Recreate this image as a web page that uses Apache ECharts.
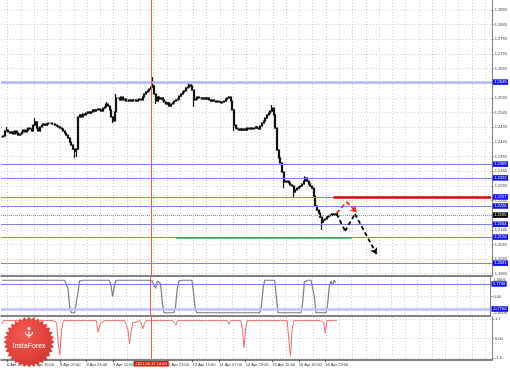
<!DOCTYPE html>
<html><head><meta charset="utf-8">
<script src="https://cdn.jsdelivr.net/npm/echarts@6/dist/echarts.min.js"></script>
<style>html,body{margin:0;padding:0;background:#fff}#c{width:510px;height:370px}</style>
</head><body><div id="c"></div>
<script>
const closes = [
1.2462,1.2465,1.2482,1.2485,1.2479,1.2475,1.2479,1.2472,1.2482,1.2475,
1.2468,1.2472,1.2479,1.2485,1.2479,1.2485,1.2492,1.2489,1.2482,1.2502,
1.2513,1.2492,1.2482,1.2496,1.2502,1.2506,1.2502,1.2506,1.2509,1.2509,
1.2506,1.2506,1.2502,1.2499,1.2496,1.2492,1.2489,1.2482,1.2475,1.2468,
1.2458,1.2444,1.2434,1.2420,1.2414,1.2420,1.2530,1.2537,1.2530,1.2540,
1.2537,1.2543,1.2547,1.2543,1.2547,1.2554,1.2550,1.2554,1.2557,1.2554,
1.2550,1.2560,1.2564,1.2574,1.2567,1.2554,1.2530,1.2516,1.2547,1.2595,
1.2595,1.2588,1.2598,1.2588,1.2591,1.2584,1.2584,1.2588,1.2584,1.2588,
1.2588,1.2584,1.2588,1.2591,1.2588,1.2598,1.2608,1.2615,1.2619,1.2625,
1.2632,1.2636,1.2608,1.2584,1.2598,1.2591,1.2595,1.2588,1.2581,1.2574,
1.2578,1.2567,1.2574,1.2578,1.2584,1.2588,1.2591,1.2601,1.2608,1.2615,
1.2619,1.2629,1.2632,1.2639,1.2636,1.2622,1.2588,1.2591,1.2598,1.2595,
1.2595,1.2591,1.2595,1.2591,1.2595,1.2588,1.2584,1.2588,1.2584,1.2581,
1.2584,1.2581,1.2578,1.2581,1.2584,1.2591,1.2595,1.2598,1.2584,1.2554,
1.2502,1.2492,1.2489,1.2485,1.2489,1.2485,1.2489,1.2485,1.2492,1.2489,
1.2492,1.2489,1.2492,1.2496,1.2492,1.2489,1.2499,1.2509,1.2516,1.2526,
1.2537,1.2543,1.2550,1.2560,1.2537,1.2492,1.2417,1.2390,1.2373,1.2342,
1.2311,1.2308,1.2311,1.2305,1.2298,1.2294,1.2274,1.2281,1.2287,1.2291,
1.2294,1.2301,1.2311,1.2322,1.2311,1.2301,1.2294,1.2287,1.2260,1.2226,
1.2212,1.2202,1.2188,1.2171,1.2178,1.2182,1.2188,1.2192,1.2195,1.2199,
1.2195,1.2199,1.2195];
const spikeHigh = {3:1.2496, 20:1.2526, 63:1.2581, 69:1.2608, 91:1.2666, 113:1.2646, 137:1.2601, 163:1.2571, 183:1.2328};
const spikeLow = {44:1.2390, 45:1.2393, 67:1.2509, 93:1.2574, 116:1.2564, 140:1.2482, 170:1.2287, 176:1.2257, 193:1.2144};

const osc1 = [
1,1,1,1,1,1,1,1,1,1, 1,1,1,1,1,1,1,1,1,1, 1,1,1,1,1,1,1,1,1,1, 1,1,1,1,1,1,1,1,1,1,
0.5,-0.6,-1,-1,-1,-1,0.2,0.95,
1,1,1,1,1,1,1,1,1,1,1,1,1,1,1,1,1,1,
0.7,0.0,0.6,
1,1,1,1,1,1,1,1,1,1,1,1,1,1,1,1,1,1,1,1,1,1,
0.95,0.85,0.5,0.95,1,0.8,-0.3,
-1,-1,-1,-1,-1,-1,-1,
-0.7,0.4,0.95,
1,1,1,1,0.9,1,1,1,
0.2,-0.8,
-1,-1,-1,-1,-1,-1,-1,-1,-1,-1,-1,-1,-1,-1,-1,-1,-1,-1,-1,-1,-1,-1,-1,-1,-1,-1,-1,-1,-1,-1,-1,-1,-1,-1,-1,-1,-1,-1,-1,
-0.6,0.5,
1,1,1,1,1,1,1,
0.0,
-1,-1,-1,-1,-1,-1,-1,-1,-1,-1,-1,-1,-1,-1,-1,
-0.3,0.9,
1,1,1,1,1,
0.0,
-1,-1,-1,-1,-1,-1,-1,
-0.5,0.6,0.95,0.7,1,0.85];

const osc2 = [
0.8,
1,1,1,1,1,1,1,1,1,1,1,1,1,1,1,1,1,1,1,1,1,1,1,1,1,1,1,1,1,1,1,1,
0.9,-0.3,-0.9,0.4,
1,1,1,1,1,1,1,1,1,1,1,1,1,1,1,1,1,1,1,1,1,
0.35,0.7,0.9,
1,1,1,1,1,1,1,1,1,1,1,1,1,1,1,
0.5,-0.3,0.4,0.9,0.85,0.9,
1,1,
0.85,0.55,0.8,
1,1,1,1,1,1,1,1,1,1,1,1,1,1,1,1,1,1,
0.75,
1,1,1,1,1,1,1,1,1,1,1,1,1,1,1,1,1,1,1,1,1,1,1,1,1,1,1,1,1,1,1,
0.8,
1,1,1,1,1,1,1,
0.5,-0.5,0.6,
1,1,1,1,1,1,1,1,1,1,1,1,1,1,1,1,1,1,1,1,1,1,1,1,1,
0.9,-1.0,0.5,
1,1,1,1,1,1,1,1,1,1,1,1,1,1,1,1,1,1,
0.9,0.3,
1,1,1,1,1,1,1];

const priceTicks = [1.2895,1.2845,1.2795,1.2745,1.2695,1.2645,1.2595,1.2545,1.2495,1.2445,1.2395,1.2345,1.2295,1.2245,1.2195,1.2145,1.2095,1.2045,1.1995];
const levels = [1.2649,1.2369,1.2322,1.2257,1.2226,1.2164,1.2120,1.2031];
const currentPrice = 1.2195;
const resistance = {from:200, to:295, value:1.2257};
const support = {from:105, to:211, value:1.2117};
const osc1Ticks = [1.0006, 0, -1.0006];
const osc1Levels = [0.77, -0.77];
const osc2Ticks = [1.1, 0, -1.1];
const timeLabels = ['6 Apr 23:00','7 Apr 15:00','8 Apr 07:00','8 Apr 23:00','9 Apr 15:00','12 Apr 23:00','13 Apr 15:00','14 Apr 07:00','14 Apr 23:00','15 Apr 15:00','16 Apr 07:00','16 Apr 23:00'];
const markerBar = '12 Apr 14:00';
const markerText = '2021.04.12 14:00';
const forecastBlack = [[202,1.2199],[207,1.2141],[213,1.2199],[226,1.2062]];
const forecastRed = [[202,1.2202],[208,1.2240],[214,1.2205]];

const MON = ['Jan','Feb','Mar','Apr','May','Jun','Jul','Aug','Sep','Oct','Nov','Dec'];
const cats = [];
for (let t = Date.UTC(2021,3,6,20); cats.length < 296; t += 3600000) {
  const d = new Date(t), wd = d.getUTCDay();
  if (wd === 0 || wd === 6) continue;
  cats.push(d.getUTCDate() + ' ' + MON[d.getUTCMonth()] + ' ' + String(d.getUTCHours()).padStart(2,'0') + ':00');
}
const labelSet = new Set(timeLabels);

const candles = closes.map((c, i) => {
  const o = i ? closes[i-1] : c;
  let hi = Math.max(o, c), lo = Math.min(o, c);
  if (spikeHigh[i] !== undefined) hi = Math.max(hi, spikeHigh[i]);
  if (spikeLow[i] !== undefined) lo = Math.min(lo, spikeLow[i]);
  return [o, c, lo, hi];
});

const FONT = 'Liberation Sans';
const boxLabel = (bg) => ({show:true, position:'end', distance:1, formatter:p => Number(p.value).toFixed(4),
  color:'#fff', backgroundColor:bg, fontSize:4, fontFamily:FONT, padding:[1,1.5,0.5,1.5]});
const gridDot = {color:'#cfcfcf', type:[1,2], width:1};

function markSeries(gi, lineStyle, data, symbols) {
  return {type:'line', xAxisIndex:gi, yAxisIndex:gi, data:[], silent:true,
    markLine:{silent:true, animation:false, precision:5, symbol:symbols || ['none','none'], symbolSize:6,
      lineStyle:lineStyle, label:{show:false}, data:data}};
}
function segs(points) {
  const out = [];
  for (let k = 0; k < points.length - 1; k++) {
    const last = k === points.length - 2;
    out.push([{coord:points[k], symbol:'none'}, {coord:points[k+1], symbol:last ? 'arrow' : 'none', symbolSize:6}]);
  }
  return out;
}

const xBase = (gi, showLabels) => ({
  type:'category', gridIndex:gi, data:cats, boundaryGap:true,
  axisLine:{show:true, onZero:false, lineStyle:{color:'#5a5a5a', width:1.5}},
  axisTick:{show:showLabels, interval:(i, v) => labelSet.has(v), length:2, alignWithLabel:true, lineStyle:{color:'#555'}},
  axisLabel:{show:showLabels, interval:(i, v) => labelSet.has(v), align:'left', fontSize:4, fontFamily:FONT, color:'#333', margin:3},
  splitLine:{show:true, interval:(i) => i % 8 === 4, lineStyle:gridDot}
});

const star = [];
for (let k = 0; k < 64; k++) {
  const r = k % 2 ? 22.5 : 25.5, a = Math.PI * k / 32;
  star.push([29 + r * Math.cos(a), 342 + r * Math.sin(a)]);
}

const option = {
  animation:false,
  backgroundColor:'#fff',
  textStyle:{fontFamily:FONT},
  grid:[
    {left:1, top:0, width:491, height:276, containLabel:false},
    {left:1, top:277, width:491, height:39, containLabel:false},
    {left:1, top:317, width:491, height:43, containLabel:false}
  ],
  xAxis:[xBase(0,false), xBase(1,false), xBase(2,true)],
  yAxis:[
    {type:'value', gridIndex:0, position:'right', min:1.19872, max:1.29291,
     axisLine:{show:true, lineStyle:{color:'#808080'}},
     axisTick:{show:true, length:2, customValues:priceTicks, lineStyle:{color:'#808080'}},
     axisLabel:{customValues:priceTicks, fontSize:4, fontFamily:FONT, color:'#333', margin:3, formatter:v => v.toFixed(4)},
     splitLine:{show:true, lineStyle:gridDot}},
    {type:'value', gridIndex:1, position:'right', min:-1.2, max:1.2,
     axisLine:{show:true, lineStyle:{color:'#808080'}},
     axisTick:{show:true, length:2, customValues:[0], lineStyle:{color:'#808080'}},
     axisLabel:{customValues:osc1Ticks, fontSize:4, fontFamily:FONT, color:'#333', margin:3, formatter:v => v === 0 ? '0.00' : v.toFixed(4)},
     splitLine:{show:true, lineStyle:gridDot}},
    {type:'value', gridIndex:2, position:'right', min:-1.2, max:1.2,
     axisLine:{show:true, lineStyle:{color:'#808080'}},
     axisTick:{show:true, length:2, customValues:osc2Ticks, lineStyle:{color:'#808080'}},
     axisLabel:{customValues:osc2Ticks, fontSize:4, fontFamily:FONT, color:'#333', margin:3, formatter:v => v === 0 ? '0.00' : v.toFixed(1)},
     splitLine:{show:true, lineStyle:gridDot}}
  ],
  series:[
    markSeries(0, {color:'#b4b4fa', width:2.5, type:'solid'}, [{yAxis:levels[0], label:boxLabel('#1010f0')}]),
    markSeries(0, {color:'#8080f0', width:1.2, type:'solid'}, levels.slice(1).map(v => ({yAxis:v, label:boxLabel('#1010f0')}))),
    markSeries(0, {color:'#9a9a9a', width:1, type:[1,1]}, [{yAxis:currentPrice, label:boxLabel('#000')}]),
    markSeries(0, {color:'#e85a5a', width:1, type:'solid'}, [{xAxis:markerBar}]),
    {type:'candlestick', xAxisIndex:0, yAxisIndex:0, data:candles, barWidth:1.5, z:3,
     itemStyle:{color:'#000', color0:'#000', borderColor:'#111', borderColor0:'#111', borderWidth:1.2}},
    markSeries(0, {color:'#e00000', width:2.5, type:'solid'}, [[{coord:[resistance.from, resistance.value]}, {coord:[resistance.to, resistance.value]}]]),
    markSeries(0, {color:'#33aa33', width:1.6, type:'solid'}, [[{coord:[support.from, support.value]}, {coord:[support.to, support.value]}]]),
    markSeries(0, {color:'#ff2020', width:1.8, type:[4,3]}, segs(forecastRed)),
    markSeries(0, {color:'#000', width:1.8, type:[4,3]}, segs(forecastBlack)),
    markSeries(1, {color:'#7c7cf2', width:1.2, type:'solid'}, [{yAxis:osc1Levels[0], label:boxLabel('#1010f0')}]),
    markSeries(1, {color:'#c0c0fc', width:2.5, type:'solid'}, [{yAxis:osc1Levels[1], label:boxLabel('#1010f0')}]),
    markSeries(1, {color:'#e85a5a', width:1, type:'solid'}, [{xAxis:markerBar}]),
    {type:'line', xAxisIndex:1, yAxisIndex:1, data:osc1, showSymbol:false, symbol:'none',
     lineStyle:{color:'#7a7a7a', width:1.2}, itemStyle:{color:'#7a7a7a'}},
    {type:'line', xAxisIndex:2, yAxisIndex:2, data:osc2, showSymbol:false, symbol:'none',
     lineStyle:{color:'#f26a6a', width:1}, itemStyle:{color:'#f26a6a'}},
    markSeries(2, {color:'#e85a5a', width:1, type:'solid'}, [{xAxis:markerBar,
        label:{show:true, position:'start', distance:1, formatter:markerText, color:'#fff', backgroundColor:'#e81010',
               fontSize:4, fontFamily:FONT, padding:[1,2,0.5,2]}}])
  ],
  graphic:[
    {type:'polygon', z:100, shape:{points:star}, style:{fill:{type:'radial', x:0.4, y:0.35, r:0.75,
      colorStops:[{offset:0, color:'#f25b50'}, {offset:1, color:'#d3312a'}]}}},
    {type:'circle', z:101, shape:{cx:29, cy:328.5, r:1.6}, style:{fill:'#fff'}},
    {type:'arc', z:101, shape:{cx:29, cy:332, r:3.5, startAngle:0, endAngle:Math.PI}, style:{stroke:'#fff', lineWidth:1.1, fill:null}},
    {type:'line', z:101, shape:{x1:29, y1:331, x2:29, y2:338}, style:{stroke:'#fff', lineWidth:1.2}},
    {type:'text', z:101, x:29, y:346, style:{text:'InstaForex', fill:'#fff', font:'7px "Liberation Sans"', align:'center', verticalAlign:'middle'}}
  ]
};

const chart = echarts.init(document.getElementById('c'), null, {renderer:'canvas', width:510, height:370});
chart.setOption(option);
</script>
</body></html>
